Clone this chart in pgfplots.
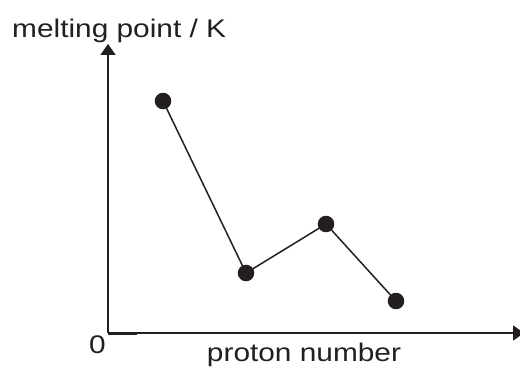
\documentclass[border=0pt]{standalone}
\usepackage{pgfplots}
\pgfplotsset{compat=1.18}
\usepackage{fontspec}
\setmainfont{Liberation Sans}[FakeStretch=1.17]
\usetikzlibrary{arrows.meta}
\definecolor{ink}{HTML}{231F20}

\begin{document}
\begin{tikzpicture}[x=1bp,y=1bp]
\useasboundingbox (0,0) rectangle (520,367);
\begin{axis}[
    at={(108bp,34bp)}, anchor=origin,
    scale only axis,
    width=416bp, height=289bp,
    xmin=0, xmax=416,
    ymin=0, ymax=289,
    axis lines=left,
    axis line style={ink, line width=1.8bp, -{Triangle[length=11bp,width=15bp]}},
    xtick=\empty, ytick=\empty,
    clip=false,
]
% melting point trend (arbitrary units)
\addplot[ink, line width=1.5bp, mark=*, mark size=7.5bp,
    mark options={fill=ink, draw=ink}]
    coordinates {
    (55,232)(138,60)(218,109)(288,32)
    };
\draw[ink, line width=2.8bp] ([yshift=-0.6bp]axis cs:0,0) -- ([yshift=-0.6bp]axis cs:29,0);
\end{axis}
\node[anchor=base west, text=ink, font=\fontsize{25.5bp}{30bp}\selectfont, inner sep=0pt] at (12,330) {melting point / K};
\node[anchor=base, text=ink, font=\fontsize{25.5bp}{30bp}\selectfont, inner sep=0pt] at (304,5.5) {proton number};
\node[anchor=base, text=ink, font=\fontsize{25.5bp}{30bp}\selectfont, inner sep=0pt] at (97.5,14) {0};
\end{tikzpicture}
\end{document}
